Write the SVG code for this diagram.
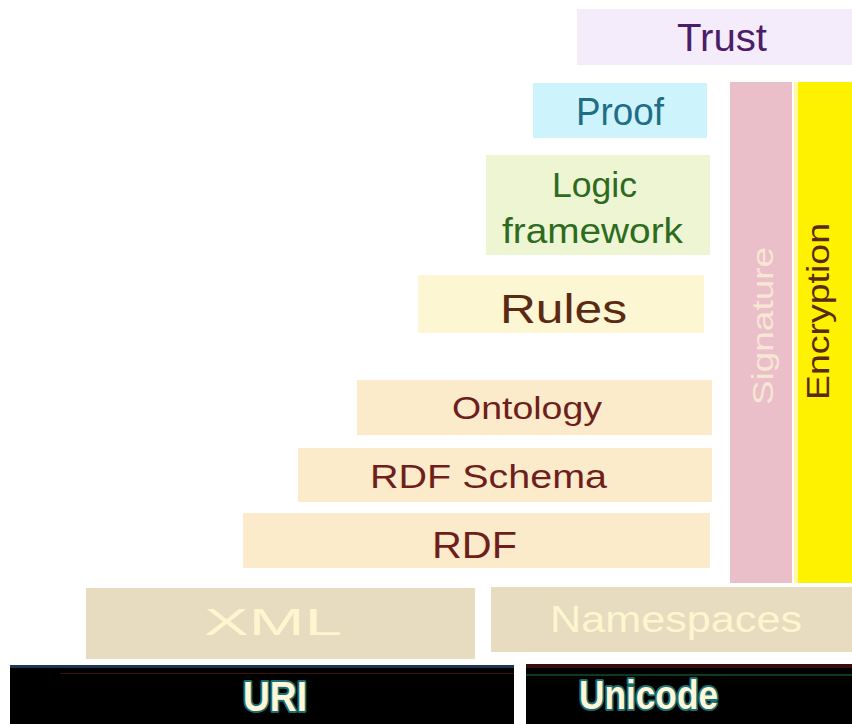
<svg xmlns="http://www.w3.org/2000/svg" width="852" height="724" viewBox="0 0 852 724">
  <style>
    text { font-family: "Liberation Sans", Arial, Helvetica, sans-serif; }
    .lbl { lengthAdjust: spacingAndGlyphs; }
    .layer-cream { fill: #fcebcb; }
    .layer-base { fill: #e7dcbf; }
    .base-text { fill: #fdf6cf; font-size: 36px; }
    .rdf-text { fill: #6e1f1c; }
    .dark { fill: #000000; }
    .enc-text { fill: #fff7d8; font-weight: bold; stroke: #1b6f72; stroke-width: 4px; paint-order: stroke; stroke-linejoin: round; }
  </style>

  <rect width="852" height="724" fill="#ffffff"/>

  <!-- Top of the stack -->
  <g id="trust">
    <rect x="577" y="9" width="275" height="56" fill="#f4ecfa"/>
    <text x="677" y="51" font-size="39" fill="#4b1d6b" textLength="90" lengthAdjust="spacingAndGlyphs">Trust</text>
  </g>

  <g id="proof">
    <rect x="533" y="83" width="174" height="55" fill="#cdf3fc"/>
    <text x="576" y="125" font-size="38" fill="#1f6e86" textLength="88" lengthAdjust="spacingAndGlyphs">Proof</text>
  </g>

  <g id="logic-framework">
    <rect x="486" y="155" width="224" height="100" fill="#eef5d3"/>
    <text x="552" y="197" font-size="35" fill="#2d6b1f" textLength="85" lengthAdjust="spacingAndGlyphs">Logic</text>
    <text x="502" y="243" font-size="35" fill="#2d6b1f" textLength="181" lengthAdjust="spacingAndGlyphs">framework</text>
  </g>

  <g id="rules">
    <rect x="418" y="275" width="286" height="58" fill="#fdf6d3"/>
    <text x="500" y="323" font-size="40" fill="#5a2a12" textLength="127" lengthAdjust="spacingAndGlyphs">Rules</text>
  </g>

  <!-- RDF family -->
  <g id="ontology">
    <rect class="layer-cream" x="357" y="380" width="355" height="55"/>
    <text class="rdf-text" x="452" y="419" font-size="32" textLength="150" lengthAdjust="spacingAndGlyphs">Ontology</text>
  </g>

  <g id="rdf-schema">
    <rect class="layer-cream" x="298" y="448" width="414" height="54"/>
    <text class="rdf-text" x="370" y="488" font-size="34" textLength="237" lengthAdjust="spacingAndGlyphs">RDF Schema</text>
  </g>

  <g id="rdf">
    <rect class="layer-cream" x="243" y="513" width="467" height="55"/>
    <text class="rdf-text" x="432" y="558" font-size="36" textLength="85" lengthAdjust="spacingAndGlyphs">RDF</text>
  </g>

  <!-- Vertical cross-cutting layers -->
  <g id="signature">
    <rect x="730" y="82" width="62" height="501" fill="#ebbfc9"/>
    <text transform="translate(773,405) rotate(-90)" font-size="30" fill="#f7e6d4" textLength="158" lengthAdjust="spacingAndGlyphs">Signature</text>
  </g>

  <g id="encryption">
    <rect x="794" y="82" width="58" height="501" fill="#fff200"/>
    <rect x="794" y="82" width="4" height="501" fill="#fff9a8"/>
    <text transform="translate(829,400) rotate(-90)" font-size="31" fill="#5a2a10" textLength="177" lengthAdjust="spacingAndGlyphs">Encryption</text>
  </g>

  <!-- Syntax layer -->
  <g id="xml">
    <rect class="layer-base" x="86" y="588" width="389" height="71"/>
    <text class="base-text" x="204" y="635" textLength="138" lengthAdjust="spacingAndGlyphs">XML</text>
  </g>

  <g id="namespaces">
    <rect class="layer-base" x="491" y="587" width="361" height="65"/>
    <text class="base-text" x="550" y="632" textLength="252" lengthAdjust="spacingAndGlyphs">Namespaces</text>
  </g>

  <!-- Foundation -->
  <g id="uri">
    <rect class="dark" x="10" y="665" width="504" height="59"/>
    <rect x="10" y="665" width="504" height="3" fill="#1c3550"/>
    <rect x="60" y="673" width="454" height="1" fill="#3a1010"/>
    <text class="enc-text" x="243" y="711" font-size="42" textLength="64" lengthAdjust="spacingAndGlyphs">URI</text>
  </g>

  <g id="unicode">
    <rect class="dark" x="526" y="664" width="326" height="60"/>
    <rect x="526" y="664" width="326" height="4" fill="#3a0c0c"/>
    <rect x="526" y="674" width="326" height="2" fill="#0f3a22"/>
    <text class="enc-text" x="579" y="709" font-size="40" textLength="139" lengthAdjust="spacingAndGlyphs">Unicode</text>
  </g>
</svg>
